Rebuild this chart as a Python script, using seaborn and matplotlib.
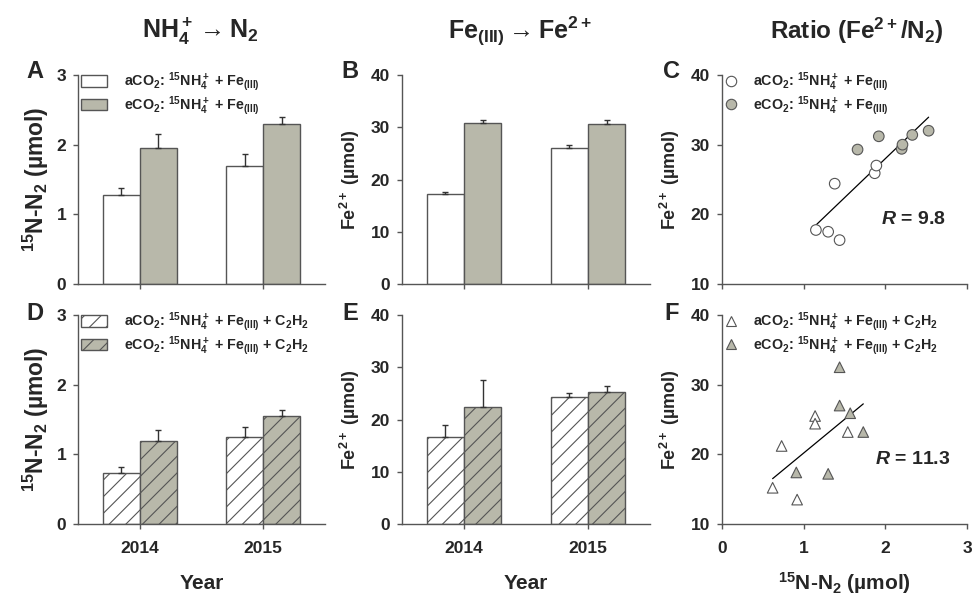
import numpy as np
import pandas as pd
import matplotlib
matplotlib.use('Agg')
import matplotlib.pyplot as plt
import seaborn as sns
from matplotlib.patches import Patch
from matplotlib.lines import Line2D

# ---------------- data ----------------
years = ['2014', '2015']
groups = ['aCO2', 'eCO2']

# Panel A: 15N-N2 (umol)
n2_a = [1.28, 1.69]
n2_a_err = [0.10, 0.18]
n2_e = [1.95, 2.30]
n2_e_err = [0.20, 0.10]
# Panel B: Fe2+ (umol)
fe_a = [17.2, 26.0]
fe_a_err = [0.4, 0.6]
fe_e = [30.8, 30.6]
fe_e_err = [0.6, 0.7]
# Panel D: 15N-N2 with C2H2
n2_a_c = [0.73, 1.25]
n2_a_c_err = [0.09, 0.14]
n2_e_c = [1.19, 1.55]
n2_e_c_err = [0.16, 0.08]
# Panel E: Fe2+ with C2H2
fe_a_c = [16.6, 24.4]
fe_a_c_err = [2.3, 0.6]
fe_e_c = [22.3, 25.3]
fe_e_c_err = [5.2, 1.1]

# Panel C scatter
c_a_x = [1.15, 1.30, 1.44, 1.38, 1.87, 1.89]
c_a_y = [17.75, 17.5, 16.3, 24.4, 25.9, 27.0]
c_e_x = [1.66, 1.92, 2.20, 2.21, 2.33, 2.53]
c_e_y = [29.3, 31.2, 29.4, 30.0, 31.4, 32.0]
# Panel F scatter
f_a_x = [0.62, 0.73, 0.92, 1.14, 1.14, 1.54]
f_a_y = [15.2, 21.2, 13.5, 25.5, 24.4, 23.2]
f_e_x = [0.91, 1.30, 1.44, 1.44, 1.57, 1.73]
f_e_y = [17.4, 17.2, 32.5, 27.0, 25.9, 23.2]

r_c = 9.8
r_f = 11.3

# ---------------- style ----------------
sns.set_style('ticks')
plt.rcParams['font.family'] = ['Liberation Sans', 'DejaVu Sans']
plt.rcParams['font.weight'] = 'bold'
plt.rcParams['axes.labelweight'] = 'bold'
plt.rcParams['mathtext.fontset'] = 'custom'
plt.rcParams['mathtext.rm'] = 'Liberation Sans:bold'
plt.rcParams['mathtext.it'] = 'Liberation Sans:bold:italic'
plt.rcParams['mathtext.bf'] = 'Liberation Sans:bold'
plt.rcParams['mathtext.default'] = 'rm'
plt.rcParams['hatch.linewidth'] = 0.8
plt.rcParams['hatch.color'] = '#333333'

WHITE = '#ffffff'
GREY = '#b8b8aa'
EDGE = '#555555'
AXC = '#555555'

W, H = 972, 598
fig = plt.figure(figsize=(W / 100, H / 100), dpi=100)


def add_ax(l, t, r, b):
    return fig.add_axes([l / W, 1 - b / H, (r - l) / W, (b - t) / H])


axA = add_ax(78, 75, 325, 284)
axB = add_ax(402, 75, 650, 284)
axC = add_ax(722, 75, 967, 284)
axD = add_ax(78, 315, 325, 524)
axE = add_ax(402, 315, 650, 524)
axF = add_ax(722, 315, 967, 524)


def style_ax(ax, labels_x=False):
    sns.despine(ax=ax)
    for s in ['left', 'bottom']:
        ax.spines[s].set_color(AXC)
        ax.spines[s].set_linewidth(1.0)
    ax.tick_params(direction='out', length=3.5, width=1, color=AXC,
                   labelsize=12.5)
    ax.tick_params(axis='y', pad=5)
    ax.tick_params(axis='x', pad=9)
    if not labels_x:
        ax.tick_params(axis='x', labelbottom=False)
    for lab in ax.get_yticklabels() + ax.get_xticklabels():
        lab.set_fontweight('bold')
    ax.set_xlabel('')
    ax.set_ylabel('')


def bar_panel(ax, a_vals, a_err, e_vals, e_err, ylim, yticks, hatch=None):
    df = pd.DataFrame({
        'year': years * 2,
        'group': [groups[0]] * 2 + [groups[1]] * 2,
        'value': a_vals + e_vals,
    })
    sns.barplot(data=df, x='year', y='value', hue='group',
                palette=[WHITE, GREY], saturation=1, width=0.6,
                edgecolor=EDGE, linewidth=1.0, errorbar=None,
                legend=False, ax=ax)
    for cont, errs in zip(ax.containers, [a_err, e_err]):
        xs, hs = [], []
        for patch in cont:
            if hatch:
                patch.set_hatch(hatch)
            xs.append(patch.get_x() + patch.get_width() / 2)
            hs.append(patch.get_height())
        ax.errorbar(xs, hs, yerr=[np.zeros(len(errs)), errs], fmt='none',
                    ecolor='#333333', elinewidth=1.0, capsize=2.5,
                    capthick=1.0, zorder=1)
    ax.set_xlim(-0.5, 1.5)
    ax.set_ylim(*ylim)
    ax.set_yticks(yticks)


def scatter_panel(ax, ax_x, ax_y, ex_x, ex_y, marker, r_val):
    df = pd.DataFrame({
        'x': ax_x + ex_x,
        'y': ax_y + ex_y,
        'group': [groups[0]] * len(ax_x) + [groups[1]] * len(ex_x),
    })
    sns.regplot(data=df, x='x', y='y', scatter=False, ci=None,
                truncate=True, color='black',
                line_kws=dict(linewidth=0.9), ax=ax)
    sns.scatterplot(data=df, x='x', y='y', hue='group',
                    palette=[WHITE, GREY], marker=marker, s=58,
                    edgecolor=EDGE, linewidth=0.8, legend=False, ax=ax,
                    zorder=3)
    ax.set_xlim(0, 3)
    ax.set_ylim(10, 40)
    ax.set_xticks([0, 1, 2, 3])
    ax.set_yticks([10, 20, 30, 40])
    ax.text(2.34, 19.2, r'$\mathit{R}$ = %s' % r_val, fontsize=14,
            fontweight='bold', ha='center', va='center')


bar_panel(axA, n2_a, n2_a_err, n2_e, n2_e_err, (0, 3), [0, 1, 2, 3])
bar_panel(axB, fe_a, fe_a_err, fe_e, fe_e_err, (0, 40), [0, 10, 20, 30, 40])
bar_panel(axD, n2_a_c, n2_a_c_err, n2_e_c, n2_e_c_err, (0, 3), [0, 1, 2, 3], hatch='//')
bar_panel(axE, fe_a_c, fe_a_c_err, fe_e_c, fe_e_c_err, (0, 40), [0, 10, 20, 30, 40], hatch='//')
scatter_panel(axC, c_a_x, c_a_y, c_e_x, c_e_y, 'o', r_c)
scatter_panel(axF, f_a_x, f_a_y, f_e_x, f_e_y, '^', r_f)

style_ax(axA)
style_ax(axB)
style_ax(axC)
style_ax(axD, True)
style_ax(axE, True)
style_ax(axF, True)

# legends
lab1 = [r'aCO$_2$: $^{15}$NH$_4^+$ + Fe$_{(III)}$',
        r'eCO$_2$: $^{15}$NH$_4^+$ + Fe$_{(III)}$']
lab2 = [r'aCO$_2$: $^{15}$NH$_4^+$ + Fe$_{(III)}$ + C$_2$H$_2$',
        r'eCO$_2$: $^{15}$NH$_4^+$ + Fe$_{(III)}$ + C$_2$H$_2$']
leg_kw = dict(loc='upper left', bbox_to_anchor=(0.0, 1.035), frameon=False,
              fontsize=10.3, borderaxespad=0.1, labelspacing=0.02,
              handletextpad=1.2, borderpad=0.1)

hA = [Patch(facecolor=WHITE, edgecolor=EDGE, linewidth=1),
      Patch(facecolor=GREY, edgecolor=EDGE, linewidth=1)]
axA.legend(hA, lab1, handlelength=1.8, handleheight=0.85, **leg_kw)
hD = [Patch(facecolor=WHITE, edgecolor=EDGE, linewidth=1, hatch='//'),
      Patch(facecolor=GREY, edgecolor=EDGE, linewidth=1, hatch='//')]
axD.legend(hD, lab2, handlelength=1.8, handleheight=0.85, **leg_kw)
hC = [Line2D([], [], marker='o', ls='', markerfacecolor=WHITE,
             markeredgecolor=EDGE, markersize=7.5, markeredgewidth=0.8),
      Line2D([], [], marker='o', ls='', markerfacecolor=GREY,
             markeredgecolor=EDGE, markersize=7.5, markeredgewidth=0.8)]
axC.legend(hC, lab1, handlelength=0.8, **leg_kw)
hF = [Line2D([], [], marker='^', ls='', markerfacecolor=WHITE,
             markeredgecolor=EDGE, markersize=7.5, markeredgewidth=0.8),
      Line2D([], [], marker='^', ls='', markerfacecolor=GREY,
             markeredgecolor=EDGE, markersize=7.5, markeredgewidth=0.8)]
axF.legend(hF, lab2, handlelength=0.8, **leg_kw)

# axis labels
ylab_n2 = r'$^{15}$N-N$_2$ (µmol)'
ylab_fe = r'Fe$^{2+}$ (µmol)'
for ax in (axA, axD):
    ax.set_ylabel(ylab_n2, fontsize=16.5, fontweight='bold', labelpad=4)
for ax in (axB, axE, axC, axF):
    ax.set_ylabel(ylab_fe, fontsize=13, fontweight='bold', labelpad=6)
axD.set_xlabel('Year', fontsize=15, fontweight='bold', labelpad=13)
axE.set_xlabel('Year', fontsize=15, fontweight='bold', labelpad=13)
axF.set_xlabel(r'$^{15}$N-N$_2$ (µmol)', fontsize=15, fontweight='bold',
               labelpad=10)

# titles
fig.text(200 / W, 1 - 31 / H, r'NH$_4^+\rightarrow$N$_2$', fontsize=18,
         fontweight='bold', ha='center', va='center')
fig.text(520 / W, 1 - 31 / H, r'Fe$_{(III)}\rightarrow$Fe$^{2+}$', fontsize=18,
         fontweight='bold', ha='center', va='center')
fig.text(857 / W, 1 - 31 / H, r'Ratio (Fe$^{2+}$/N$_2$)', fontsize=17.5,
         fontweight='bold', ha='center', va='center')

# panel letters
for letter, x, y in [('A', 35, 72), ('B', 350, 72), ('C', 672, 72),
                     ('D', 35, 313), ('E', 350, 313), ('F', 672, 313)]:
    fig.text(x / W, 1 - y / H, letter, fontsize=17, fontweight='bold',
             ha='center', va='center')

fig.savefig('out.png', dpi=100)
